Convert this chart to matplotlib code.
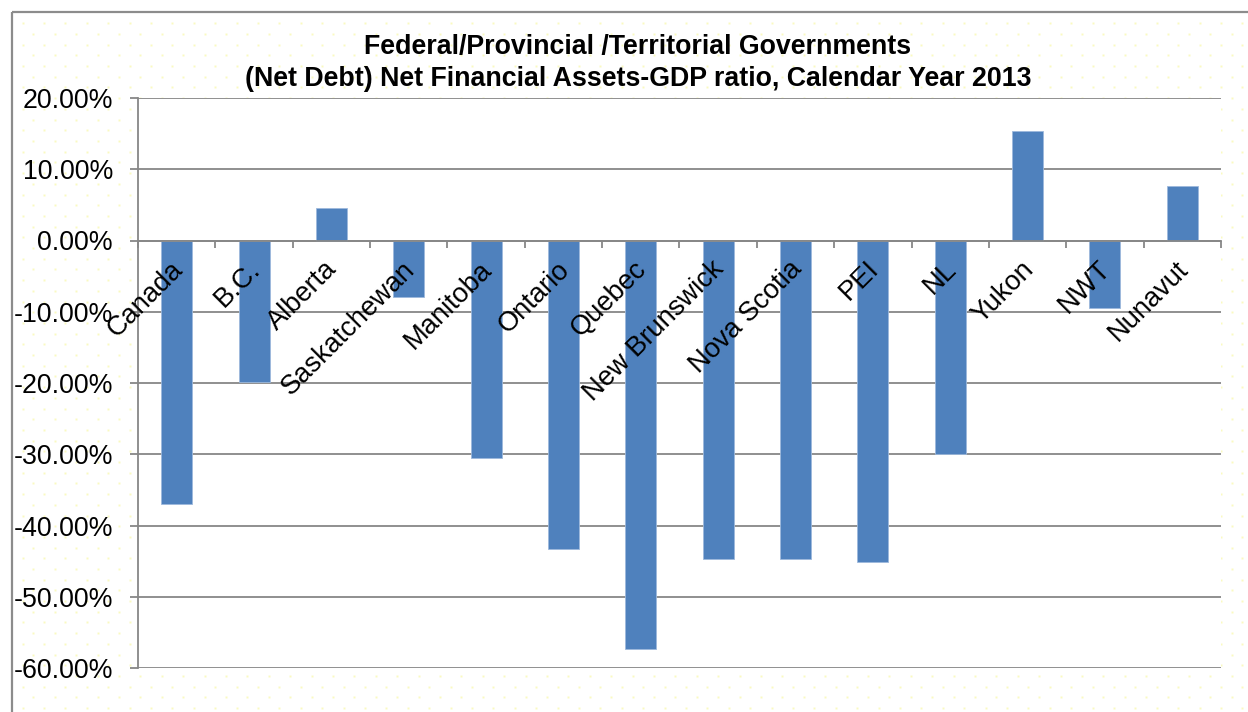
#!/usr/bin/env python3

import numpy as np
from matplotlib import pyplot as plt
from matplotlib import transforms
from matplotlib.patches import Rectangle
from matplotlib.ticker import FuncFormatter, FixedLocator

################################################################################
# data
################################################################################

regions = ['Canada', 'B.C.', 'Alberta', 'Saskatchewan', 'Manitoba', 'Ontario',
		   'Quebec', 'New Brunswick', 'Nova Scotia', 'PEI', 'NL', 'Yukon',
		   'NWT', 'Nunavut']
# net financial assets as a share of GDP, percent
nfa_gdp = [-37.0, -19.9, 4.5, -7.9, -30.5, -43.3,
		   -57.3, -44.7, -44.7, -45.1, -30.0, 15.4,
		   -9.5, 7.7]
y_ticks = [20, 10, 0, -10, -20, -30, -40, -50, -60]
title_lines = ['Federal/Provincial /Territorial Governments',
			   '(Net Debt) Net Financial Assets-GDP ratio, Calendar Year 2013']

################################################################################
# plot
################################################################################

def plot_ratio (savefile = 'out.png'):
	W, H = 1248, 712
	bar_color = '#4F81BD'
	line_color = '#878787'
	plt.rcParams['font.family'] = ['Liberation Sans', 'DejaVu Sans']
	fig = plt.figure(figsize = (W/100, H/100), dpi = 100)
	# chart area: dotted fill and grey border, in pixel units
	bg = fig.add_axes([0, 0, 1, 1], zorder = 0)
	bg.set_xlim(0, W)
	bg.set_ylim(H, 0)
	bg.axis('off')
	rows = np.arange(23.3, H, 10.7)
	dots = []
	for k, yy in enumerate(rows):
		xs = np.arange(22.7 + (10.7 if k % 2 else 0), W, 21.4)
		dots.append(np.column_stack([xs, np.full_like(xs, yy)]))
	dots = np.vstack(dots)
	bg.plot(dots[:,0], dots[:,1], linestyle = '', marker = 's',
			markersize = 1.4, markeredgewidth = 0, color = '#FAFAC0')
	bg.add_patch(Rectangle((12, 12), W, H, fill = False,
						   edgecolor = '#8C8C8C', linewidth = 1.6))
	for i, line in enumerate(title_lines):
		bg.text(638, 47 + 32*i, line, ha = 'center', va = 'center',
				fontsize = 19.3, fontweight = 'bold', color = 'black')

	ax = fig.add_axes([138/W, 1 - 668/H, 1083/W, 570/H], zorder = 1)
	ax.set_facecolor('white')
	x = np.arange(len(regions))
	ax.bar(x, nfa_gdp, width = 0.4, color = bar_color,
		   edgecolor = '#9DB9DC', linewidth = 0.6, zorder = 3)
	ax.set_xlim(-0.5, len(regions) - 0.5)
	ax.set_ylim(-60, 20)
	ax.set_yticks(y_ticks)
	ax.yaxis.set_major_formatter(FuncFormatter(lambda v, p: '%.2f%%' % v))
	ax.grid(axis = 'y', color = line_color, linewidth = 1.3, zorder = 1)
	ax.tick_params(axis = 'y', length = 6, width = 1.3, color = line_color,
				   pad = 12, labelsize = 19.3)
	# category axis crosses at zero, ticks between categories
	ax.spines['bottom'].set_position(('data', 0))
	ax.spines['bottom'].set_color(line_color)
	ax.spines['bottom'].set_linewidth(1.3)
	ax.spines['bottom'].set_zorder(4)
	ax.spines['left'].set_color(line_color)
	ax.spines['left'].set_linewidth(1.3)
	ax.spines['top'].set_visible(False)
	ax.spines['right'].set_visible(False)
	ax.xaxis.set_major_locator(FixedLocator(np.arange(len(regions) + 1) - 0.5))
	ax.tick_params(axis = 'x', length = 5, width = 1.3, color = line_color,
				   labelbottom = False)
	label_tf = transforms.offset_copy(ax.transData, fig, x = 2, y = -25,
									  units = 'dots')
	for xi, name in zip(x, regions):
		ax.text(xi, 0, name, transform = label_tf, rotation = 45,
				rotation_mode = 'anchor', ha = 'right', va = 'center',
				fontsize = 19.6, zorder = 5, clip_on = False)
	plt.savefig(savefile, dpi = 100)
	plt.close()
	return

################################################################################

if __name__ == '__main__':
	plot_ratio()

################################################################################
# EOF
